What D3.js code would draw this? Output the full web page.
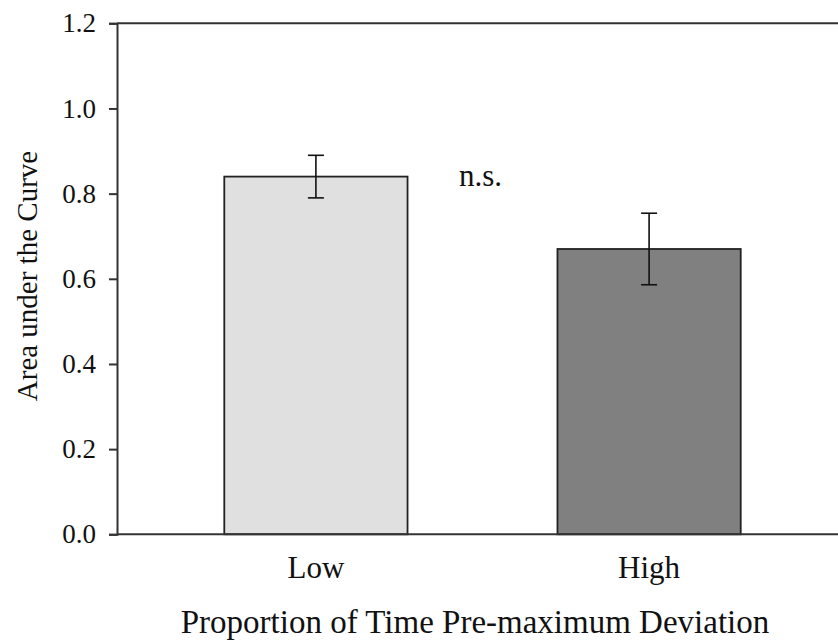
<!DOCTYPE html>
<html>
<head>
<meta charset="utf-8">
<script src="https://cdn.jsdelivr.net/npm/d3@7"></script>
<style>
  html, body { margin: 0; padding: 0; background: #fff; }
  svg { display: block; }
  text { font-family: "Liberation Serif", "Times New Roman", serif; fill: #111; }
</style>
</head>
<body>
<svg id="chart" width="838" height="642"></svg>
<script>
const categories = ["Low", "High"];
const values = [0.84, 0.67];
const errors = [0.05, 0.084];
const yTicks = [0.0, 0.2, 0.4, 0.6, 0.8, 1.0, 1.2];
const barColors = ["#e0e0e0", "#808080"];
const annotation = "n.s.";
const xTitle = "Proportion of Time Pre-maximum Deviation";
const yTitle = "Area under the Curve";

const svg = d3.select("#chart");
const plotLeft = 117, plotRight = 848, plotTop = 23.3, plotBottom = 534.3;

const x = d3.scaleBand().domain(categories).range([plotLeft, plotRight])
  .paddingInner(0.45).paddingOuter(0.322);
const y = d3.scaleLinear().domain([0, 1.2]).range([plotBottom, plotTop]);

// bars
svg.selectAll("rect.bar").data(categories).join("rect")
  .attr("class", "bar")
  .attr("x", d => x(d))
  .attr("width", x.bandwidth())
  .attr("y", (d, i) => y(values[i]))
  .attr("height", (d, i) => y(0) - y(values[i]))
  .attr("fill", (d, i) => barColors[i])
  .attr("stroke", "#222")
  .attr("stroke-width", 1.8);

// error bars
const eb = svg.append("g").attr("stroke", "#111").attr("stroke-width", 1.6);
categories.forEach((c, i) => {
  const cx = x(c) + x.bandwidth() / 2;
  const hi = y(values[i] + errors[i]), lo = y(values[i] - errors[i]);
  eb.append("line").attr("x1", cx).attr("x2", cx).attr("y1", hi).attr("y2", lo);
  eb.append("line").attr("x1", cx - 8).attr("x2", cx + 8).attr("y1", hi).attr("y2", hi);
  eb.append("line").attr("x1", cx - 8).attr("x2", cx + 8).attr("y1", lo).attr("y2", lo);
});

// frame top line
svg.append("line").attr("x1", plotLeft).attr("x2", 838).attr("y1", y(1.2)).attr("y2", y(1.2))
  .attr("stroke", "#333").attr("stroke-width", 2);
// bottom axis line
svg.append("line").attr("x1", plotLeft).attr("x2", 838).attr("y1", y(0)).attr("y2", y(0))
  .attr("stroke", "#333").attr("stroke-width", 2);

// y axis
const yAxis = d3.axisLeft(y).tickValues(yTicks).tickFormat(d3.format(".1f")).tickSize(8).tickPadding(13);
const yg = svg.append("g").attr("transform", `translate(${plotLeft},0)`).call(yAxis);
yg.attr("font-family", null);
yg.select(".domain").attr("stroke", "#333").attr("stroke-width", 2);
yg.selectAll(".tick line").attr("stroke", "#333").attr("stroke-width", 2);
yg.selectAll(".tick text").style("font-size", "27px").attr("fill", "#111")
  .style("font-family", "'Liberation Serif', serif");

// x category labels
const xAxis = d3.axisBottom(x).tickSize(0).tickPadding(0);
const xg = svg.append("g").attr("transform", `translate(0,${plotBottom})`).call(xAxis);
xg.attr("font-family", null);
xg.select(".domain").remove();
xg.selectAll(".tick text").attr("dy", null).attr("y", 44)
  .style("font-size", "31px").attr("fill", "#111")
  .style("font-family", "'Liberation Serif', serif");

// annotation
svg.append("text").attr("x", x("Low") + x.bandwidth() + 73).attr("y", y(0.84) + 9)
  .attr("text-anchor", "middle").style("font-size", "31px").text(annotation);

// titles
svg.append("text").attr("x", 475).attr("y", 633).attr("text-anchor", "middle")
  .style("font-size", "33px").text(xTitle);
svg.append("text").attr("transform", "translate(37,276) rotate(-90)")
  .attr("text-anchor", "middle").style("font-size", "29px").text(yTitle);
</script>
</body>
</html>
